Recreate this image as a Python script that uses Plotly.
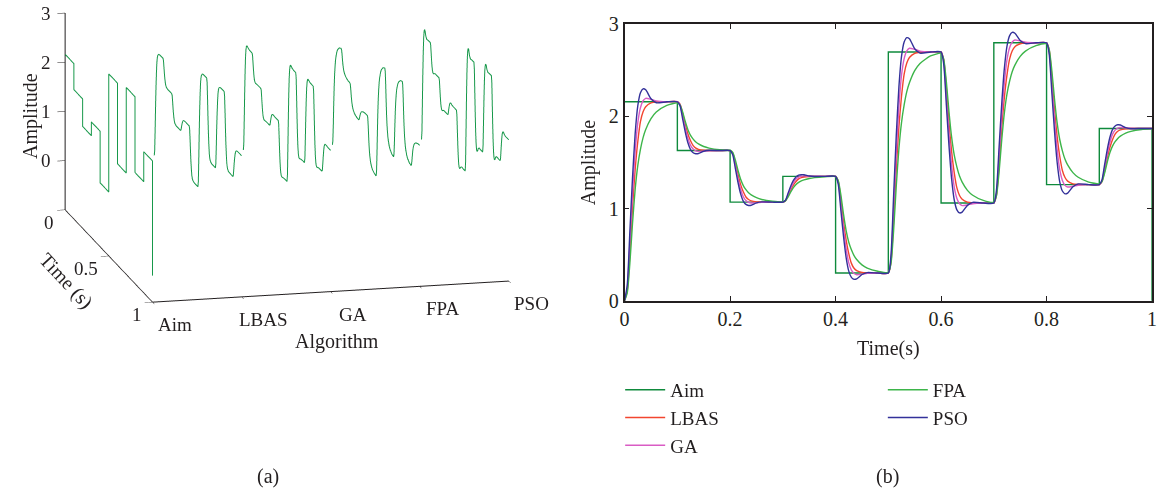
import plotly.graph_objects as go

# ---- data -------------------------------------------------------------
algorithms = ["Aim", "LBAS", "GA", "FPA", "PSO"]

# reference (aim) trajectory: level held over each 0.1 s interval
aim_times = [0.0, 0.1, 0.2, 0.3, 0.4, 0.5, 0.6, 0.7, 0.8, 0.9, 1.0]
aim_levels = [2.16, 1.63, 1.07, 1.35, 0.30, 2.70, 1.06, 2.80, 1.26, 1.87, -0.46]

# sample offsets inside each 0.1 s interval
offsets = [0.0, 0.005, 0.01, 0.015, 0.02, 0.025, 0.03, 0.035, 0.04, 0.05, 0.06, 0.08]
time = [round(0.1 * k + o, 3) for k in range(10) for o in offsets] + [1.0]

lbas = [
    0.000, 0.108, 0.518, 1.015, 1.426, 1.728, 1.944, 2.052, 2.106, 2.147, 2.158, 2.160,
    2.160, 2.133, 2.033, 1.911, 1.810, 1.736, 1.683, 1.656, 1.643, 1.633, 1.631, 1.630,
    1.630, 1.602, 1.496, 1.367, 1.260, 1.182, 1.126, 1.098, 1.084, 1.073, 1.071, 1.070,
    1.070, 1.084, 1.137, 1.202, 1.255, 1.294, 1.322, 1.336, 1.343, 1.348, 1.350, 1.350,
    1.350, 1.297, 1.098, 0.856, 0.657, 0.510, 0.405, 0.352, 0.326, 0.306, 0.301, 0.300,
    0.300, 0.420, 0.876, 1.428, 1.884, 2.220, 2.460, 2.580, 2.640, 2.686, 2.698, 2.700,
    2.700, 2.618, 2.306, 1.929, 1.618, 1.388, 1.224, 1.142, 1.101, 1.070, 1.062, 1.060,
    1.060, 1.147, 1.478, 1.878, 2.208, 2.452, 2.626, 2.713, 2.757, 2.790, 2.798, 2.800,
    2.800, 2.723, 2.430, 2.076, 1.784, 1.568, 1.414, 1.337, 1.298, 1.269, 1.262, 1.260,
    1.260, 1.291, 1.406, 1.547, 1.663, 1.748, 1.809, 1.840, 1.855, 1.866, 1.869, 1.870,
    1.870,
]

ga = [
    0.000, 0.130, 0.626, 1.166, 1.620, 1.933, 2.095, 2.171, 2.197, 2.186, 2.169, 2.160,
    2.160, 2.128, 2.006, 1.874, 1.762, 1.686, 1.646, 1.627, 1.621, 1.624, 1.628, 1.630,
    1.630, 1.596, 1.468, 1.328, 1.210, 1.129, 1.087, 1.067, 1.060, 1.063, 1.068, 1.070,
    1.070, 1.087, 1.151, 1.221, 1.280, 1.321, 1.342, 1.351, 1.355, 1.353, 1.351, 1.350,
    1.350, 1.287, 1.045, 0.783, 0.562, 0.410, 0.331, 0.295, 0.282, 0.287, 0.296, 0.300,
    0.300, 0.444, 0.996, 1.596, 2.100, 2.448, 2.628, 2.712, 2.741, 2.729, 2.710, 2.700,
    2.700, 2.602, 2.224, 1.814, 1.470, 1.232, 1.109, 1.052, 1.032, 1.040, 1.053, 1.060,
    1.060, 1.164, 1.565, 2.000, 2.365, 2.617, 2.748, 2.809, 2.830, 2.821, 2.807, 2.800,
    2.800, 2.708, 2.353, 1.968, 1.645, 1.422, 1.306, 1.252, 1.234, 1.242, 1.254, 1.260,
    1.260, 1.297, 1.437, 1.589, 1.718, 1.806, 1.852, 1.873, 1.880, 1.877, 1.872, 1.870,
    1.870,
]

fpa = [
    0.000, 0.086, 0.410, 0.842, 1.210, 1.469, 1.642, 1.771, 1.858, 1.976, 2.048, 2.121,
    2.147, 2.126, 2.049, 1.945, 1.857, 1.795, 1.754, 1.723, 1.702, 1.674, 1.657, 1.639,
    1.633, 1.610, 1.526, 1.413, 1.318, 1.250, 1.205, 1.171, 1.149, 1.118, 1.099, 1.080,
    1.073, 1.084, 1.126, 1.181, 1.228, 1.261, 1.284, 1.300, 1.311, 1.326, 1.336, 1.345,
    1.348, 1.306, 1.149, 0.939, 0.761, 0.635, 0.552, 0.489, 0.447, 0.389, 0.354, 0.319,
    0.306, 0.402, 0.761, 1.240, 1.647, 1.934, 2.125, 2.269, 2.365, 2.497, 2.576, 2.657,
    2.686, 2.621, 2.377, 2.052, 1.775, 1.580, 1.450, 1.353, 1.288, 1.198, 1.145, 1.089,
    1.070, 1.139, 1.399, 1.745, 2.039, 2.246, 2.385, 2.489, 2.558, 2.653, 2.710, 2.769,
    2.790, 2.729, 2.499, 2.193, 1.933, 1.750, 1.627, 1.535, 1.474, 1.390, 1.340, 1.288,
    1.269, 1.293, 1.383, 1.503, 1.606, 1.678, 1.726, 1.762, 1.786, 1.819, 1.839, 1.859,
    1.866,
]

pso = [
    0.000, 0.173, 0.756, 1.339, 1.814, 2.117, 2.257, 2.300, 2.290, 2.192, 2.149, 2.160,
    2.160, 2.118, 1.974, 1.831, 1.715, 1.641, 1.606, 1.596, 1.598, 1.622, 1.633, 1.630,
    1.630, 1.585, 1.434, 1.283, 1.160, 1.081, 1.045, 1.034, 1.036, 1.062, 1.073, 1.070,
    1.070, 1.092, 1.168, 1.244, 1.305, 1.344, 1.363, 1.368, 1.367, 1.354, 1.349, 1.350,
    1.350, 1.266, 0.982, 0.699, 0.468, 0.321, 0.253, 0.232, 0.237, 0.284, 0.305, 0.300,
    0.300, 0.492, 1.140, 1.788, 2.316, 2.652, 2.808, 2.856, 2.844, 2.736, 2.688, 2.700,
    2.700, 2.569, 2.126, 1.683, 1.322, 1.093, 0.986, 0.953, 0.962, 1.035, 1.068, 1.060,
    1.060, 1.199, 1.669, 2.139, 2.522, 2.765, 2.878, 2.913, 2.904, 2.826, 2.791, 2.800,
    2.800, 2.677, 2.261, 1.845, 1.506, 1.291, 1.191, 1.160, 1.168, 1.237, 1.268, 1.260,
    1.260, 1.309, 1.474, 1.638, 1.772, 1.858, 1.897, 1.910, 1.907, 1.879, 1.867, 1.870,
    1.870,
]

amp_ticks = [0, 1, 2, 3]
time_ticks = [0, 0.5, 1]

colors = {
    "Aim": "#0f8a3c",
    "LBAS": "#f2452f",
    "GA": "#d95cc4",
    "FPA": "#3db54a",
    "PSO": "#33319a",
}
wf_color = "#17984a"

FONT = "Liberation Serif, Times New Roman, serif"
TXT = "#231f20"
FS = 19

# step polyline of the aim trajectory (for the 3-D view)
aim_t3, aim_z3 = [], []
for i in range(len(aim_times) - 1):
    aim_t3 += [aim_times[i], aim_times[i + 1]]
    aim_z3 += [aim_levels[i], aim_levels[i]]
aim_t3.append(aim_times[-1])
aim_z3.append(aim_levels[-1])

responses = {"LBAS": lbas, "GA": ga, "FPA": fpa, "PSO": pso}

fig = go.Figure()

# ---- (a) waterfall in 3-D --------------------------------------------
# time runs toward the viewer, so it is stored negated on the scene y axis
series3d = [("Aim", aim_t3, aim_z3)] + [(n, time, v) for n, v in responses.items()]
for k, (name, tt, zz) in enumerate(series3d):
    fig.add_trace(go.Scatter3d(
        x=[k] * len(tt), y=[-t for t in tt], z=zz,
        mode="lines", line=dict(color=wf_color, width=2),
        showlegend=False, hoverinfo="skip", scene="scene",
    ))

axis3d = dict(
    showbackground=False, showgrid=False, zeroline=False, showspikes=False,
    showline=True, linecolor="#231f20", linewidth=2,
    ticks="outside", ticklen=8, tickcolor="#231f20",
    showticklabels=False, title=dict(text=""),
)

tick_font = dict(family=FONT, size=FS, color=TXT)
scene_labels = []
for v in amp_ticks:
    scene_labels.append(dict(x=0, y=0, z=v, text=str(v), showarrow=False,
                             xanchor="right", xshift=-12, font=tick_font))
for t in time_ticks:
    scene_labels.append(dict(x=0, y=-t, z=-1, text=f"{t:g}", showarrow=False,
                             xanchor="right", xshift=-9, yshift=-13, font=tick_font))
for k, name in enumerate(algorithms):
    scene_labels.append(dict(x=k, y=-1, z=-1, text=name, showarrow=False,
                             xshift=22, yshift=-23, font=tick_font))

box_scale = 2.04
eye_len = 3.0
eye_dir = (-0.2229, -0.9422, 0.2501)
cam_center = (0.0, 0.0, -0.25)

fig.update_layout(scene=dict(
    domain=dict(x=[0.0, 0.49], y=[0.25, 1.0]),
    xaxis=dict(axis3d, range=[0, len(algorithms) - 1], tickvals=list(range(len(algorithms)))),
    yaxis=dict(axis3d, range=[-1, 0], tickvals=[-t for t in time_ticks]),
    zaxis=dict(axis3d, range=[-1, 3], tickvals=amp_ticks),
    aspectmode="manual",
    aspectratio=dict(x=1.0 * box_scale, y=1.036 * box_scale, z=0.555 * box_scale),
    camera=dict(
        projection=dict(type="orthographic"),
        eye=dict(x=cam_center[0] + eye_dir[0] * eye_len,
                 y=cam_center[1] + eye_dir[1] * eye_len,
                 z=cam_center[2] + eye_dir[2] * eye_len),
        up=dict(x=0, y=0, z=1),
        center=dict(x=cam_center[0], y=cam_center[1], z=cam_center[2]),
    ),
    annotations=scene_labels,
    bgcolor="white",
))


def paper_text(text, px, py, size=FS + 1, angle=0):
    fig.add_annotation(text=text, x=px / 1162, y=1 - py / 500, xref="paper", yref="paper",
                       xanchor="center", yanchor="middle", textangle=angle,
                       showarrow=False, font=dict(family=FONT, size=size, color=TXT))


# axis titles of the 3-D view
paper_text("Amplitude", 25, 110, angle=-90)
paper_text("Time (s)", 62, 283, angle=47)
paper_text("Algorithm", 335, 346)

# ---- (b) step responses ----------------------------------------------
fig.add_trace(go.Scatter(
    x=aim_times, y=aim_levels, mode="lines", name="Aim",
    line=dict(color=colors["Aim"], width=1.4, shape="hv"),
    legend="legend", legendgroup="Aim",
))
for name in ["LBAS", "GA"]:
    fig.add_trace(go.Scatter(
        x=time, y=responses[name], mode="lines", name=name,
        line=dict(color=colors[name], width=1.4, shape="spline", smoothing=0.6),
        legend="legend", legendgroup=name,
    ))
for name in ["FPA", "PSO"]:
    fig.add_trace(go.Scatter(
        x=time, y=responses[name], mode="lines", name=name,
        line=dict(color=colors[name], width=1.4, shape="spline", smoothing=0.6),
        legend="legend2", legendgroup=name,
    ))

axis2d = dict(
    showgrid=False, zeroline=False, showline=True, mirror="ticks",
    linecolor="#231f20", linewidth=1.6, ticks="inside", ticklen=5,
    tickcolor="#231f20", tickfont=dict(family=FONT, size=20, color=TXT),
)
fig.update_layout(
    xaxis=dict(axis2d, domain=[625 / 1162, 1157 / 1162], range=[0, 1],
               tickvals=[0, 0.2, 0.4, 0.6, 0.8, 1], ticktext=["0", "0.2", "0.4", "0.6", "0.8", "1"],
               title=dict(text="Time(s)", font=dict(family=FONT, size=20, color=TXT), standoff=12)),
    yaxis=dict(axis2d, domain=[0.394, 0.972], range=[0, 3],
               tickvals=amp_ticks, ticktext=[str(v) for v in amp_ticks],
               title=dict(text="Amplitude", font=dict(family=FONT, size=20, color=TXT), standoff=8)),
)

legend_style = dict(
    font=dict(family=FONT, size=19, color=TXT), bgcolor="rgba(0,0,0,0)",
    traceorder="grouped", tracegroupgap=0, xanchor="left", yanchor="top",
    itemwidth=40,
)
fig.update_layout(
    legend=dict(legend_style, x=0.534, y=0.247),
    legend2=dict(legend_style, x=0.762, y=0.247),
)

paper_text("(a)", 265, 487)
paper_text("(b)", 890, 487)

fig.update_layout(
    width=1162, height=500, margin=dict(l=0, r=0, t=0, b=0),
    paper_bgcolor="white", plot_bgcolor="white",
    font=dict(family=FONT, size=20, color=TXT),
)

fig.write_html("out.html", config={"displayModeBar": False})
